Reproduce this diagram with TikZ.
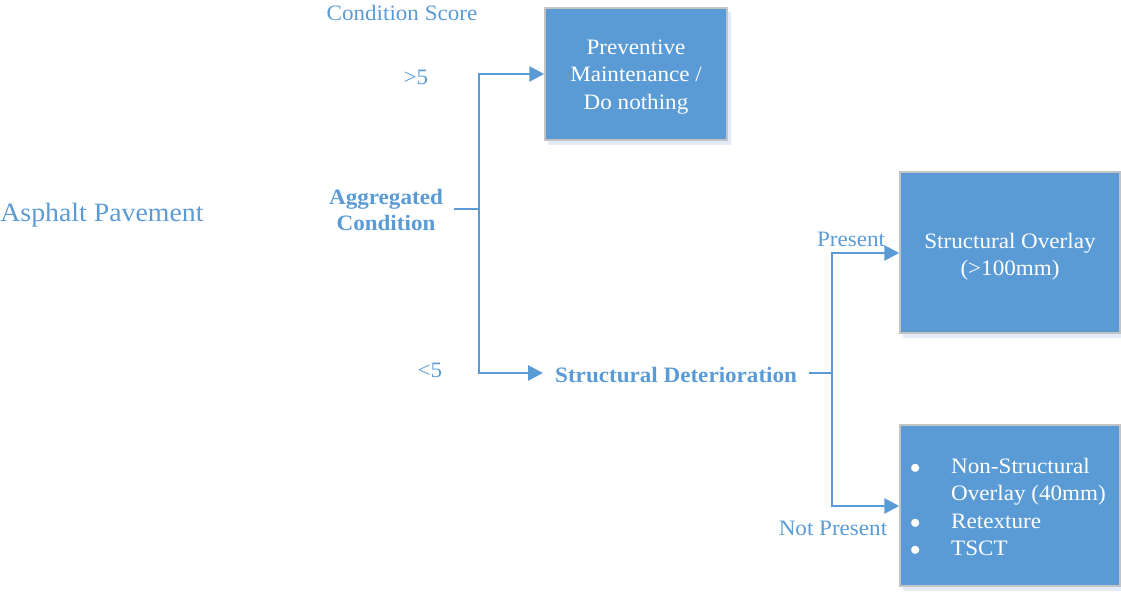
\documentclass[tikz,border=0pt]{standalone}
\usepackage{fontspec}
\setmainfont{Liberation Serif}[FakeStretch=1.05]
\usetikzlibrary{arrows.meta,calc}
\definecolor{mblue}{HTML}{5B9BD5}
\definecolor{mgray}{HTML}{C3C3C3}
\definecolor{mshadow}{HTML}{E3ECF6}
\begin{document}
\begin{tikzpicture}[x=1pt,y=-1pt,
  lbl/.style={text=mblue,font=\fontsize{22}{26}\selectfont,inner sep=0pt},
  blbl/.style={text=mblue,font=\fontsize{22}{26}\selectfont\bfseries,align=center},
  box/.style={fill=mblue,draw=mgray,line width=1.5pt,inner sep=0pt,minimum width=#1},
  boxtxt/.style={text=white,font=\fontsize{22}{27.3}\selectfont,align=center,inner sep=0pt},
  conn/.style={draw=mblue,line width=2.8pt},
  arr/.style={conn,-{Triangle[length=15pt,width=15pt]}}
]
\useasboundingbox (0,0) rectangle (1121,593);
% shadows
\fill[mshadow] (548,12) rectangle (731,145);
\fill[mshadow] (903,176) rectangle (1121,338);
\fill[mshadow] (903,429) rectangle (1121,591);
% boxes
\node[box=182pt,minimum height=132pt] (pm) at (636,74) {};
\node[boxtxt] (pmt) at (636,77) {Preventive\\Maintenance /\\Do nothing};
\node[box=220pt,minimum height=161pt] (so) at (1010,252.5) {};
\node[boxtxt] (sot) at (1010,257) {Structural Overlay\\(>100mm)};
\node[box=220pt,minimum height=161pt] (ns) at (1010,505.5) {};
\node[boxtxt,anchor=west,align=left] (nst) at (910,507)
 {\makebox[41pt][l]{$\bullet$}Non-Structural\\
  \makebox[41pt][l]{}Overlay (40mm)\\
  \makebox[41pt][l]{$\bullet$}Retexture\\
  \makebox[41pt][l]{$\bullet$}TSCT};
% labels
\node[text=mblue,font=\fontsize{26.5}{30}\selectfont,inner sep=0pt] (ap) at (102,215) {Asphalt Pavement};
\node[lbl] (cs) at (402,13) {Condition Score};
\node[lbl] (gt) at (416,77) {>5};
\node[lbl] (lt) at (430,370) {<5};
\node[lbl] (pr) at (851,239) {Present};
\node[lbl] (np) at (833,528) {Not Present};
\node[blbl,inner xsep=11pt,inner ysep=0pt] (agg) at (386,210) {Aggregated\\Condition};
\node[blbl,inner xsep=12pt,inner ysep=0pt,anchor=west] (sd) at (543,375) {Structural Deterioration};
% connectors
\coordinate (j1) at (479,209);
\coordinate (j2) at (832,373);
\draw[conn] (agg.east |- j1) -- (j1);
\draw[arr] (j1) |- (pm.west);
\draw[arr] (j1) |- (sd.west |- 0,373);
\draw[conn] (sd.east |- j2) -- (j2);
\draw[arr] (j2) |- (so.west |- 0,253);
\draw[arr] (j2) |- (ns.west |- 0,506);
\end{tikzpicture}
\end{document}
